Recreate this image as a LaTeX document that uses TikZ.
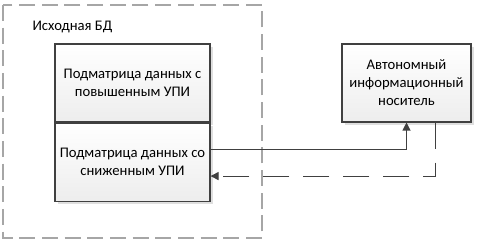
\documentclass[tikz,border=0pt]{standalone}
\usepackage{fontspec}
\setmainfont{Carlito}
\usetikzlibrary{arrows.meta,positioning,shadows}

\definecolor{linegray}{HTML}{404040}
\definecolor{framegray}{HTML}{A6A6A6}

\begin{document}
\begin{tikzpicture}[
  x=0.75pt,y=-0.75pt,
  >={Triangle[length=6pt,width=6pt]},
  font=\fontsize{11}{13.5}\selectfont,
  block/.style={draw=linegray,top color=white,bottom color=black!7,
    drop shadow={shadow xshift=2pt,shadow yshift=-2pt,opacity=0.25},
    align=center,minimum height=58.5pt,inner sep=0pt},
  every path/.style={line width=0.8pt}
]
  \useasboundingbox (0,0) rectangle (477,245);
  % source database frame
  \draw[framegray,dash pattern=on 12pt off 5pt,line width=0.9pt] (3,5) rectangle (262,238);
  \node[anchor=west,inner sep=0pt] (dbname) at (32,27) {Исходная БД};
  \node[block,minimum width=116.25pt] (high) at (132.5,83)
    {Подматрица данных с\\повышенным УПИ};
  \node[block,minimum width=116.25pt,below=0pt of high] (low)
    {Подматрица данных со\\сниженным УПИ};
  \node[block,minimum width=96.75pt] (media) at (406.5,83)
    {Автономный\\информационный\\носитель};
  \coordinate (lowout) at ([yshift=9.75pt]low.east);
  \coordinate (lowin) at ([yshift=-10.5pt]low.east);
  \coordinate (mediain) at (media.south);
  \coordinate (mediaout) at ([xshift=22pt]media.south);
  \draw[->,linegray] (lowout) -| (mediain);
  \draw[->,linegray,dash pattern=on 20pt off 10pt] (mediaout) |- (lowin);
\end{tikzpicture}
\end{document}
